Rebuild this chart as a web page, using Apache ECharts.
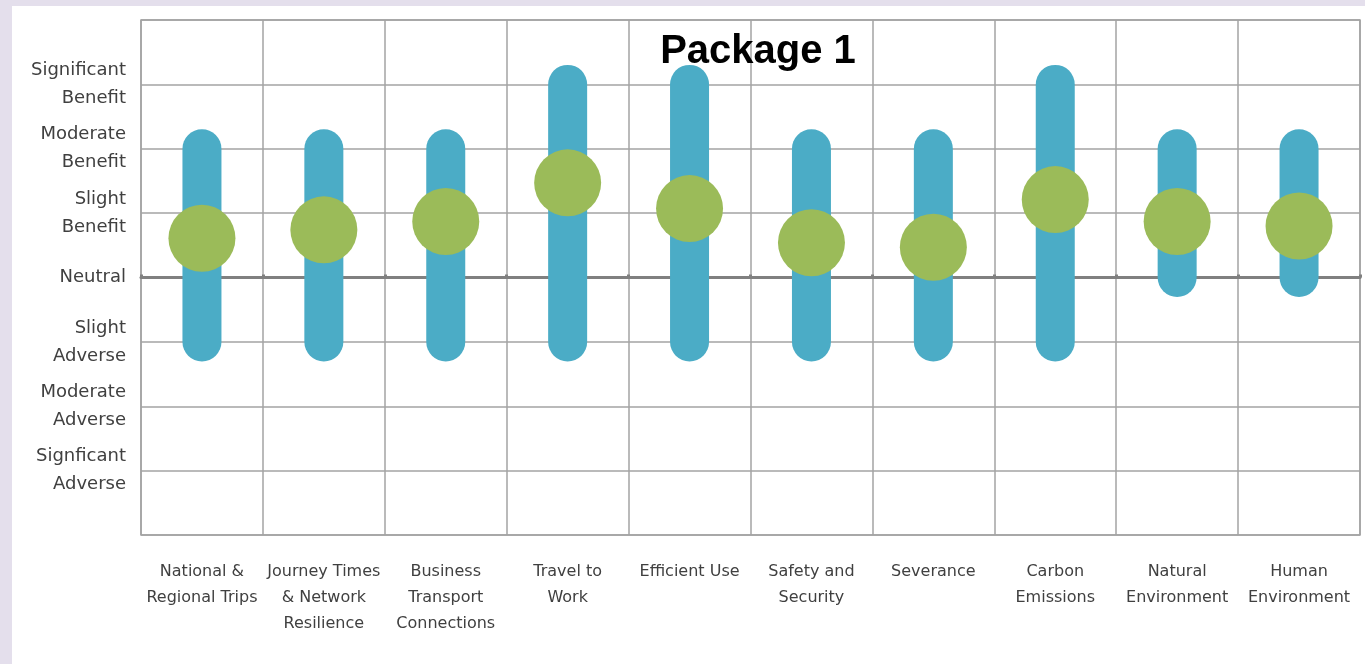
<!DOCTYPE html>
<html>
<head>
<meta charset="utf-8">
<style>
html,body{margin:0;padding:0;background:#ffffff;}
#chart{width:1365px;height:664px;}
</style>
<script src="https://cdn.jsdelivr.net/npm/echarts@6/dist/echarts.min.js"></script>
</head>
<body>
<div id="chart"></div>
<script>
// ---- data ----
const categories = [
  "National &\nRegional Trips",
  "Journey Times\n& Network\nResilience",
  "Business\nTransport\nConnections",
  "Travel to\nWork",
  "Efficient Use",
  "Safety and\nSecurity",
  "Severance",
  "Carbon\nEmissions",
  "Natural\nEnvironment",
  "Human\nEnvironment"
];
const rangeLow  = [-1, -1, -1, -1, -1, -1, -1, -1, 0, 0];
const rangeHigh = [ 2,  2,  2,  3,  3,  2,  2,  3, 2, 2];
const scores    = [0.61, 0.74, 0.87, 1.47, 1.07, 0.54, 0.47, 1.21, 0.87, 0.80];
const yTickLabels = {
  "3": "Significant\nBenefit",
  "2": "Moderate\nBenefit",
  "1": "Slight\nBenefit",
  "0": "Neutral",
  "-1": "Slight\nAdverse",
  "-2": "Moderate\nAdverse",
  "-3": "Signficant\nAdverse"
};
const titleText = "Package 1";

// ---- chart ----
const chart = echarts.init(document.getElementById('chart'), null, {renderer: 'canvas'});
const gridColor = '#a3a3a3';
const rangeData = categories.map((c, i) => [i, rangeLow[i], rangeHigh[i]]);
const scoreData = categories.map((c, i) => [i, scores[i]]);

const option = {
  backgroundColor: '#ffffff',
  animation: false,
  title: {
    text: titleText,
    left: 753, top: 27, textAlign: 'center',
    textStyle: {fontFamily: 'Liberation Sans', fontWeight: 'bold', fontSize: 40, color: '#000000'}
  },
  graphic: [
    {type: 'rect', left: 0, top: 0, shape: {width: 12, height: 664}, style: {fill: '#e4dfec'}, z: 0},
    {type: 'rect', left: 0, top: 0, shape: {width: 1365, height: 6}, style: {fill: '#e4dfec'}, z: 0}
  ],
  grid: {left: 141, right: 5, top: 20, bottom: 129, show: true, borderColor: gridColor, borderWidth: 1.5, backgroundColor: 'transparent'},
  xAxis: [{
    type: 'category',
    data: categories,
    boundaryGap: true,
    position: 'bottom',
    axisLine: {show: false, onZero: false},
    axisTick: {show: false},
    splitLine: {show: true, lineStyle: {color: gridColor, width: 1.5}},
    axisLabel: {
      interval: 0, margin: 24, color: '#404040',
      fontFamily: 'DejaVu Sans', fontSize: 16, lineHeight: 26, align: 'center'
    }
  }, {
    type: 'category',
    data: categories,
    boundaryGap: true,
    position: 'top',
    axisLine: {show: true, onZero: true, lineStyle: {color: '#808080', width: 3}},
    axisTick: {show: true, length: 3, inside: false, lineStyle: {color: '#808080', width: 3}},
    axisLabel: {show: false},
    splitLine: {show: false}
  }],
  yAxis: {
    type: 'value',
    min: -4, max: 4, interval: 1,
    axisLine: {show: false},
    axisTick: {show: false},
    splitLine: {show: true, lineStyle: {color: gridColor, width: 1.5}},
    axisLabel: {
      margin: 15, color: '#404040',
      fontFamily: 'DejaVu Sans', fontSize: 18, lineHeight: 28, align: 'right',
      formatter: v => yTickLabels[String(v)] || ''
    }
  },
  series: [
    {
      type: 'custom',
      xAxisIndex: 0,
      data: rangeData,
      z: 3,
      renderItem: function (params, api) {
        const x = api.value(0);
        const p1 = api.coord([x, api.value(1)]);
        const p2 = api.coord([x, api.value(2)]);
        const w = 39;
        const cap = w / 2;
        return {
          type: 'rect',
          shape: {x: p1[0] - w / 2, y: p2[1] - cap, width: w, height: (p1[1] - p2[1]) + 2 * cap, r: cap},
          style: {fill: '#4bacc6'}
        };
      },
      encode: {x: 0, y: [1, 2]}
    },
    {
      type: 'scatter',
      xAxisIndex: 0,
      data: scoreData,
      symbol: 'circle',
      symbolSize: 67,
      z: 4,
      itemStyle: {color: '#9bbb59', opacity: 1}
    }
  ]
};
chart.setOption(option);
</script>
</body>
</html>
